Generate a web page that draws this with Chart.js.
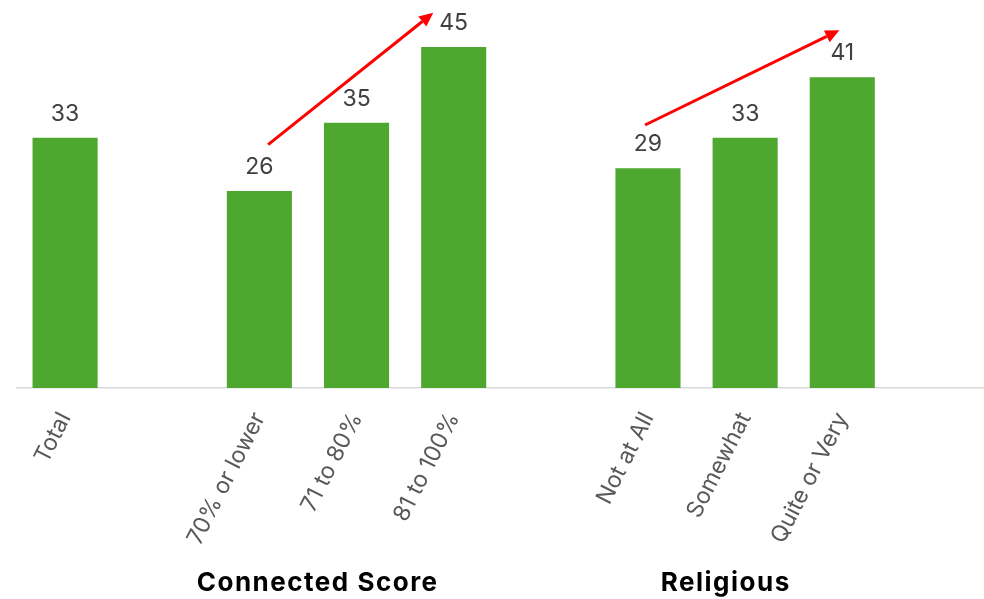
<!DOCTYPE html>
<html>
<head>
<meta charset="utf-8">
<script src="https://cdn.jsdelivr.net/npm/chart.js@4"></script>
<style>
  html, body { margin: 0; padding: 0; background: #fff; overflow: hidden; }
  #frame { width: 984px; height: 599px; overflow: hidden; }
  #wrap { width: 988px; height: 599px; position: relative; }
</style>
</head>
<body>
<div id="frame"><div id="wrap"><canvas id="chart"></canvas></div></div>
<script>
// empty strings keep the gaps between the groups
const categories = ["Total", "", "70% or lower", "71 to 80%", "81 to 100%", "", "Not at All", "Somewhat", "Quite or Very", ""]
const values = [33, null, 26, 35, 45, null, 29, 33, 41, null]

// group captions under the axis: [text, category position]
const groups = [["Connected Score", 2.6], ["Religious", 6.8]]

// trend arrows in data units: [fromIndex, fromValue, toIndex, toValue]
const arrows = [
  [2.09, 32.1, 3.79, 49.5],
  [5.97, 34.7, 7.97, 47.2],
]

const FONT = "Inter, 'Open Sans', sans-serif"

const valueLabels = {
  id: "valueLabels",
  afterDatasetsDraw(chart) {
    const { ctx } = chart
    const meta = chart.getDatasetMeta(0)
    ctx.save()
    ctx.font = `23px ${FONT}`
    ctx.fillStyle = "#404040"
    ctx.textAlign = "center"
    ctx.textBaseline = "alphabetic"
    meta.data.forEach((bar, i) => {
      if (values[i] == null) return
      ctx.fillText(String(values[i]), bar.x, bar.y - 17)
    })
    ctx.restore()
  },
}

const trendArrows = {
  id: "trendArrows",
  afterDraw(chart) {
    const { ctx, scales } = chart
    ctx.save()
    ctx.strokeStyle = "#ff0000"
    ctx.fillStyle = "#ff0000"
    ctx.lineWidth = 3
    arrows.forEach(([i0, v0, i1, v1]) => {
      const x0 = scales.x.getPixelForValue(i0)
      const y0 = scales.y.getPixelForValue(v0)
      const x1 = scales.x.getPixelForValue(i1)
      const y1 = scales.y.getPixelForValue(v1)
      const ang = Math.atan2(y1 - y0, x1 - x0)
      const head = 14
      const bx = x1 - head * Math.cos(ang)
      const by = y1 - head * Math.sin(ang)
      ctx.beginPath()
      ctx.moveTo(x0, y0)
      ctx.lineTo(bx, by)
      ctx.stroke()
      ctx.beginPath()
      ctx.moveTo(x1, y1)
      ctx.lineTo(bx + 6.5 * Math.sin(ang), by - 6.5 * Math.cos(ang))
      ctx.lineTo(bx - 6.5 * Math.sin(ang), by + 6.5 * Math.cos(ang))
      ctx.closePath()
      ctx.fill()
    })
    ctx.restore()
  },
}

const groupCaptions = {
  id: "groupCaptions",
  afterDraw(chart) {
    const { ctx, scales } = chart
    ctx.save()
    ctx.font = `bold 26px ${FONT}`
    ctx.letterSpacing = "1.5px"
    ctx.fillStyle = "#000"
    ctx.textAlign = "center"
    ctx.textBaseline = "alphabetic"
    groups.forEach(([text, pos]) => {
      ctx.fillText(text, scales.x.getPixelForValue(pos), 591)
    })
    ctx.restore()
  },
}

new Chart(document.getElementById("chart"), {
  type: "bar",
  data: {
    labels: categories,
    datasets: [
      {
        data: values,
        backgroundColor: "#4ea72e",
        categoryPercentage: 1,
        barPercentage: 0.67,
      },
    ],
  },
  options: {
    responsive: true,
    maintainAspectRatio: false,
    animation: false,
    layout: { padding: { left: 16.5, right: 0, top: 9, bottom: 0 } },
    plugins: {
      legend: { display: false },
      tooltip: { enabled: false },
    },
    scales: {
      y: {
        display: false,
        min: 0,
        max: 50,
      },
      x: {
        grid: { display: false, drawTicks: false },
        border: { display: true, color: "#d9d9d9", width: 1.5 },
        afterFit: (axis) => { axis.height = 211 },
        ticks: {
          autoSkip: false,
          minRotation: 63,
          maxRotation: 63,
          padding: 20,
          color: "#595959",
          font: { family: FONT, size: 23 },
        },
      },
    },
  },
  plugins: [valueLabels, trendArrows, groupCaptions],
})
</script>
</body>
</html>
